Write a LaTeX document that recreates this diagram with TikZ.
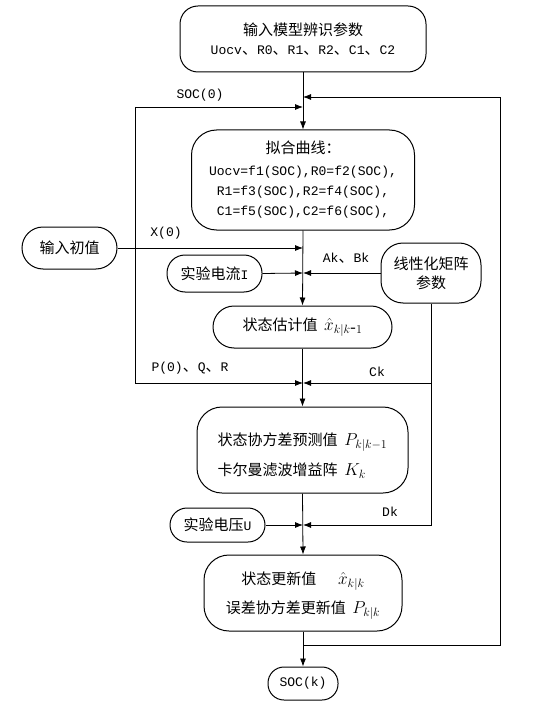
\documentclass[tikz,border=0pt]{standalone}
\usepackage{fontspec}
\setmainfont{Noto Sans CJK SC}
\newfontfamily\mono[Scale=0.87]{Liberation Mono}
\usetikzlibrary{arrows.meta}
\newcommand{\dun}{{\rmfamily 、}}
\newcommand{\mymath}[1]{{\fontsize{17}{17}\selectfont$#1$}}
\begin{document}
\begin{tikzpicture}[x=1pt,y=-1pt,
  box/.style={draw, line width=1pt, align=center, inner sep=0pt, font=\fontsize{15}{19}\selectfont},
  arr/.style={-{Latex[length=8pt,width=6pt]}, line width=0.8pt},
  lbl/.style={font=\fontsize{15}{18}\selectfont\mono, inner sep=0pt}]
\useasboundingbox (0,0) rectangle (535,714);
% boxes
\node[box, minimum width=246pt, minimum height=66pt, rounded corners=18pt] (top) at (303,39)
  {输入模型辨识参数\\{\mono Uocv\dun R0\dun R1\dun R2\dun C1\dun C2}};
\node[box, minimum width=223pt, minimum height=100pt, rounded corners=25pt, font=\fontsize{15}{20}\selectfont] (fit) at (303,180)
  {拟合曲线：\\[2pt]{\mono Uocv=f1(SOC),R0=f2(SOC),}\\{\mono R1=f3(SOC),R2=f4(SOC),}\\{\mono C1=f5(SOC),C2=f6(SOC),}};
\node[box, minimum width=95pt, minimum height=42pt, rounded corners=21pt] (init) at (69.5,248) {输入初值};
\node[box, minimum width=95pt, minimum height=37pt, rounded corners=18pt] (curI) at (214.5,273.5) {实验电流{\mono I}};
\node[box, minimum width=100pt, minimum height=60pt, rounded corners=22pt] (lin) at (431,273) {线性化矩阵\\参数};
\node[box, minimum width=179pt, minimum height=42pt, rounded corners=21pt] (est) at (302.5,327)
  {状态估计值\ \ \mymath{\hat{x}_{k|k\mbox{-}1}}};
\node[box, minimum width=211pt, minimum height=86pt, rounded corners=25pt, align=left] (cov) at (302.5,450)
  {\rule{0pt}{24pt}状态协方差预测值\ \ \mymath{P_{k|k-1}}\\[11pt]卡尔曼滤波增益阵\ \ \mymath{K_k}};
\node[box, minimum width=95pt, minimum height=34pt, rounded corners=17pt] (volU) at (217.5,525) {实验电压{\mono U}};
\node[box, minimum width=198pt, minimum height=76pt, rounded corners=25pt] (upd) at (303,593)
  {\rule{0pt}{18pt}状态更新值\quad\ \ \mymath{\hat{x}_{k|k}}\hspace{12pt}\\[10pt]误差协方差更新值\ \ \mymath{P_{k|k}}};
\node[box, minimum width=70pt, minimum height=33pt, rounded corners=16pt] (socK) at (303,683.5) {{\mono SOC(k)}};
% junctions
\coordinate (j0) at (303,97);
\coordinate (j1) at (303,107);
\coordinate (j2) at (303,248);
\coordinate (j3) at (303,273);
\coordinate (j4) at (303,383);
\coordinate (j5) at (303,525);
\coordinate (j6) at (303,645);
\coordinate (L1) at (135,107);
\coordinate (L4) at (135,383);
\coordinate (R0) at (500,97);
\coordinate (R6) at (500,645);
\coordinate (C4) at (lin.south |- j4);
\coordinate (C5) at (lin.south |- j5);
% main line
\draw[arr] (top.south) -- (fit.north);
\draw[arr] (fit.south) -- (est.north);
\draw[arr] (est.south) -- (cov.north);
\draw[arr] (cov.south) -- (upd.north);
\draw[arr] (upd.south) -- (socK.north);
% side inputs
\draw[arr] (L4) -- (L1) -- (j1);
\draw[arr] (L1) -- (L4) -- (j4);
\draw[arr] (init.east) -- (j2);
\draw[arr] (curI.east) -- (j3);
\draw[arr] (lin.west) -- (j3);
\draw[arr] (lin.south) -- (C4) -- (j4);
\draw[arr] (C4) -- (C5) -- (j5);
\draw[arr] (volU.east) -- (j5);
\draw[arr] (j6) -- (R6) -- (R0) -- (j0);
% labels
\node[lbl] (l1) at (200,95) {SOC(0)};
\node[lbl] (l2) at (166,233) {X(0)};
\node[lbl] (l3) at (346,258) {Ak\dun Bk};
\node[lbl] (l4) at (190,368) {P(0)\dun Q\dun R};
\node[lbl] (l5) at (377,372) {Ck};
\node[lbl] (l6) at (390,512) {Dk};
\end{tikzpicture}
\end{document}
